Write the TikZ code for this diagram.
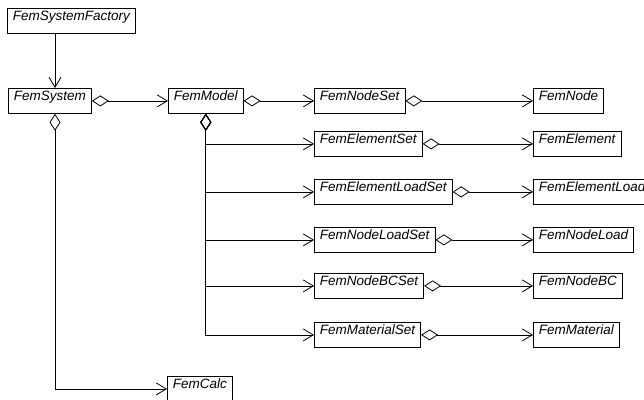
\documentclass[tikz,border=0pt]{standalone}
\usepackage{fontspec}
\setmainfont{Liberation Sans}
\usetikzlibrary{arrows.meta}

\begin{document}
\begin{tikzpicture}[
  x=1pt,
  y=-1pt,
  cls/.style={
    draw,
    anchor=north west,
    line width=0.8pt,
    text height=11pt,
    text depth=12pt,
    inner xsep=5.5pt,
    inner ysep=1pt,
    font=\fontsize{13.5}{16}\selectfont\itshape
  },
  agg/.style={
    {Diamond[open,length=17pt,width=11pt]}-{Straight Barb[length=10pt,width=12pt]},
    line width=0.8pt
  },
  assoc/.style={
    -{Straight Barb[length=10pt,width=12pt]},
    line width=0.8pt
  }
]

\path[use as bounding box] (0,0) rectangle (644,399);

\node[cls] (fac)    at (7,8)     {FemSystemFactory};
\node[cls] (sys)    at (8,88)    {FemSystem};
\node[cls] (model)  at (168,88)  {FemModel};
\node[cls] (calc)   at (167,376) {FemCalc};

\node[cls] (nset)   at (314,88)  {FemNodeSet};
\node[cls] (eset)   at (314,131) {FemElementSet};
\node[cls] (elset)  at (314,179) {FemElementLoadSet};
\node[cls] (nlset)  at (314,227) {FemNodeLoadSet};
\node[cls] (bcset)  at (314,273) {FemNodeBCSet};
\node[cls] (mset)   at (314,322) {FemMaterialSet};

\node[cls] (node)   at (533,88)  {FemNode};
\node[cls] (elem)   at (533,131) {FemElement};
\node[cls] (eload)  at (533,179) {FemElementLoad};
\node[cls] (nload)  at (533,227) {FemNodeLoad};
\node[cls] (nbc)    at (533,273) {FemNodeBC};
\node[cls] (mat)    at (533,322) {FemMaterial};

\coordinate (sysdrop) at ([xshift=47pt]sys.south west);

\draw[assoc] (fac.south -| sysdrop) -- (sys.north -| sysdrop);
\draw[agg] (sys.east) -- (model.west);
\draw[agg] (sysdrop) |- (calc.west);

\draw[agg] (model.east) -- (nset.west);
\draw[agg] (model.south) |- (eset.west);
\draw[agg] (model.south) |- (elset.west);
\draw[agg] (model.south) |- (nlset.west);
\draw[agg] (model.south) |- (bcset.west);
\draw[agg] (model.south) |- (mset.west);

\draw[agg] (nset.east)  -- (node.west);
\draw[agg] (eset.east)  -- (elem.west);
\draw[agg] (elset.east) -- (eload.west);
\draw[agg] (nlset.east) -- (nload.west);
\draw[agg] (bcset.east) -- (nbc.west);
\draw[agg] (mset.east)  -- (mat.west);

\end{tikzpicture}
\end{document}
